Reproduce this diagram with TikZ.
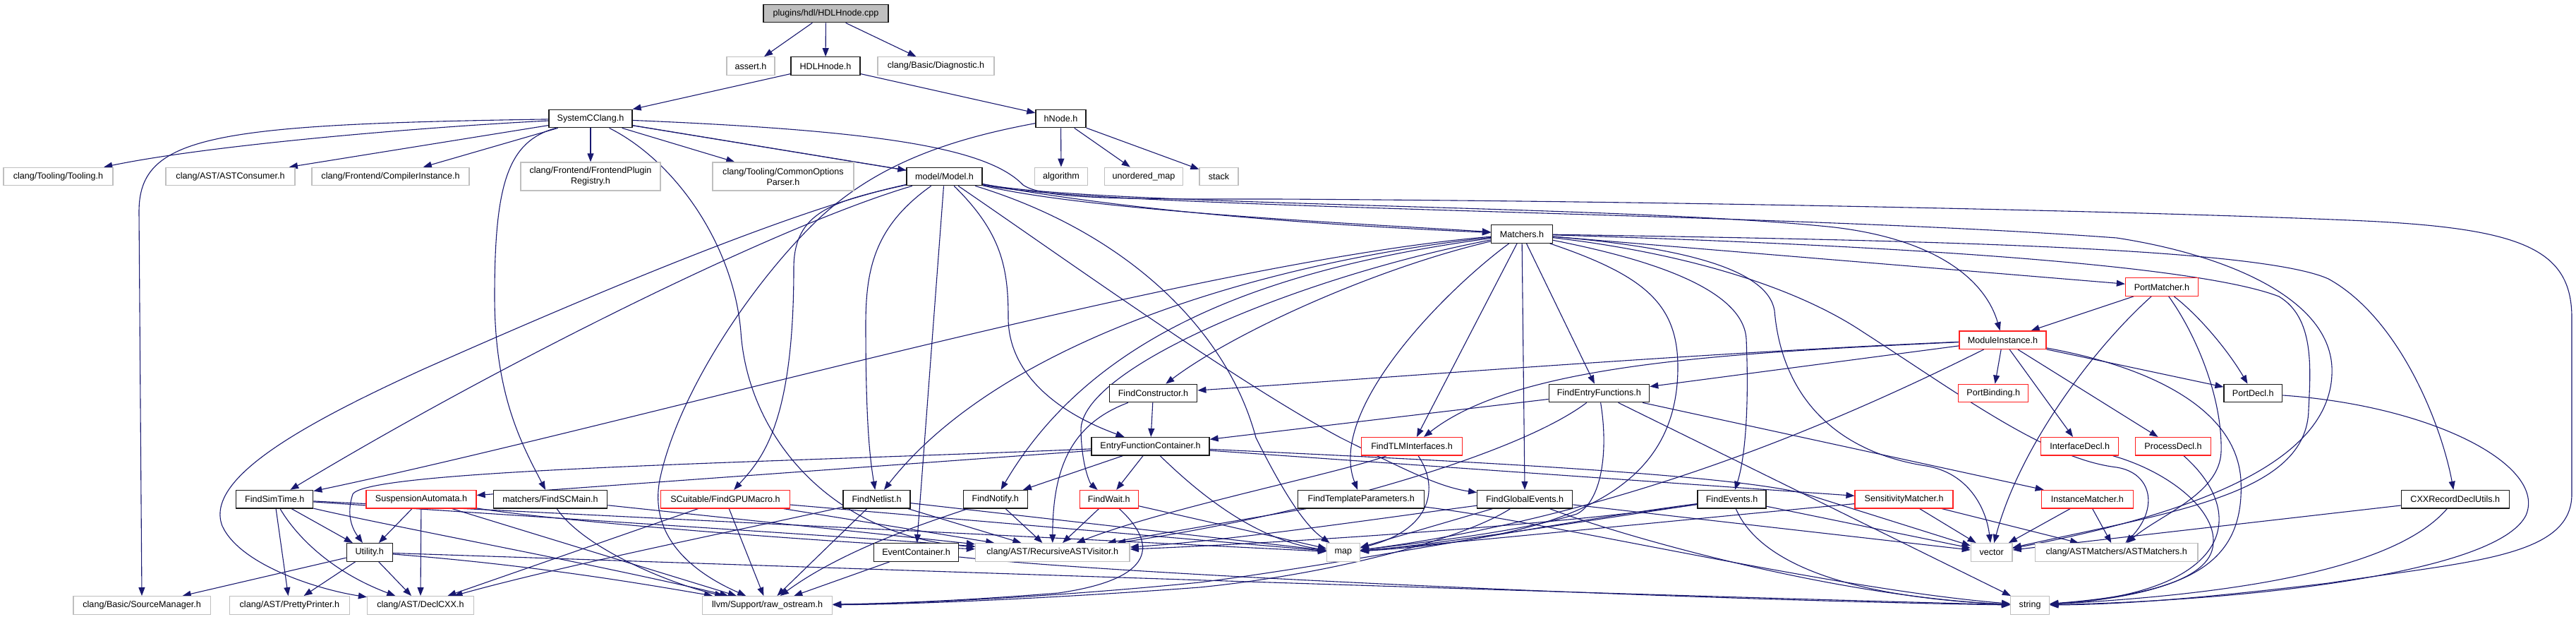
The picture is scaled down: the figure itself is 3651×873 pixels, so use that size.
\documentclass[tikz,border=0pt]{standalone}
\usepackage{fontspec}
\setmainfont{Liberation Sans}
\usetikzlibrary{arrows.meta}
\definecolor{edgec}{HTML}{191970}
\definecolor{gbord}{HTML}{BFBFBF}
\definecolor{rootfill}{HTML}{BFBFBF}
\definecolor{redb}{HTML}{FF2020}
\pgfdeclarelayer{bg}
\pgfsetlayers{bg,main}
\newcommand\nf{\fontsize{12.6}{15}\selectfont}
\tikzset{
  box/.style={rectangle, inner sep=0pt, minimum height=25.5pt, font=\nf, fill=white, line width=1.3pt, align=center},
  bb/.style={box, draw=black!90},
  gb/.style={box, draw=gbord},
  rb/.style={box, draw=redb},
  rootb/.style={box, draw=black!90, fill=rootfill},
  e/.style={draw=edgec, line width=1.1pt, -{Triangle[length=12pt,width=9pt]}},
}
\begin{document}
\begin{tikzpicture}[x=1pt,y=-1pt]
\useasboundingbox (0,0) rectangle (3651,873);
\begin{pgfonlayer}{bg}
\fill[white] (0,0) rectangle (3651,873);
\end{pgfonlayer}
% ---------- nodes ----------
\node[rootb, minimum width=177pt] (root) at (1170.5,19) {plugins/hdl/HDLHnode.cpp};
\node[gb, minimum width=68pt] (assert) at (1064,93.5) {assert.h};
\node[bb, minimum width=98pt] (hdlh) at (1170,93.5) {HDLHnode.h};
\node[gb, minimum width=165pt] (diag) at (1326.5,93.5) {clang/Basic/Diagnostic.h};
\node[bb, minimum width=118pt] (scc) at (837,168) {SystemCClang.h};
\node[bb, minimum width=71pt] (hnode) at (1503.5,168) {hNode.h};
\node[gb, minimum width=155pt] (tooling) at (82.5,250) {clang/Tooling/Tooling.h};
\node[gb, minimum width=183pt] (astcons) at (326.5,250) {clang/AST/ASTConsumer.h};
\node[gb, minimum width=223pt] (compinst) at (553.5,250) {clang/Frontend/CompilerInstance.h};
\node[gb, minimum width=198pt, minimum height=40pt] (fpreg) at (837,250) {clang/Frontend/FrontendPlugin\\Registry.h};
\node[gb, minimum width=200pt, minimum height=40pt] (cop) at (1110,250) {clang/Tooling/CommonOptions\\Parser.h};
\node[bb, minimum width=107pt] (model) at (1338.5,250) {model/Model.h};
\node[gb, minimum width=75pt] (algo) at (1504,250) {algorithm};
\node[gb, minimum width=111pt] (umap) at (1621,250) {unordered\_map};
\node[gb, minimum width=55pt] (stack) at (1727.5,250) {stack};
\node[bb, minimum width=87pt] (matchers) at (2157,331.5) {Matchers.h};
\node[rb, minimum width=103pt] (portm) at (3064,406.5) {PortMatcher.h};
\node[rb, minimum width=123pt] (modinst) at (2838.5,481.7) {ModuleInstance.h};
\node[bb, minimum width=124.5pt] (findctor) at (1634.5,557) {FindConstructor.h};
\node[bb, minimum width=142.4pt] (fef) at (2266.4,557) {FindEntryFunctions.h};
\node[rb, minimum width=99pt] (portbind) at (2825.2,557) {PortBinding.h};
\node[bb, minimum width=82.6pt] (portdecl) at (3193.3,557) {PortDecl.h};
\node[bb, minimum width=167pt] (efc) at (1630.5,632.3) {EntryFunctionContainer.h};
\node[rb, minimum width=143pt] (ftlm) at (2001,632.3) {FindTLMInterfaces.h};
\node[rb, minimum width=110pt] (ifdecl) at (2947.7,632.3) {InterfaceDecl.h};
\node[rb, minimum width=107pt] (procdecl) at (3080,632.3) {ProcessDecl.h};
\node[bb, minimum width=109pt] (fst) at (389.2,707.2) {FindSimTime.h};
\node[rb, minimum width=156pt] (susp) at (597,707.2) {SuspensionAutomata.h};
\node[bb, minimum width=161.5pt] (fscm) at (780,707.2) {matchers/FindSCMain.h};
\node[rb, minimum width=183pt] (fgpu) at (1028,707.2) {SCuitable/FindGPUMacro.h};
\node[bb, minimum width=95pt] (fnet) at (1242.5,707.2) {FindNetlist.h};
\node[bb, minimum width=91pt] (fnot) at (1410.7,707.2) {FindNotify.h};
\node[rb, minimum width=83pt] (fwait) at (1571.7,707.2) {FindWait.h};
\node[bb, minimum width=179pt] (ftp) at (1929.2,707.2) {FindTemplateParameters.h};
\node[bb, minimum width=135pt] (fge) at (2161.2,707.2) {FindGlobalEvents.h};
\node[bb, minimum width=97pt] (fev) at (2454.5,707.2) {FindEvents.h};
\node[rb, minimum width=139pt] (sensm) at (2698.6,707.2) {SensitivityMatcher.h};
\node[rb, minimum width=130pt] (instm) at (2958.3,707.2) {InstanceMatcher.h};
\node[bb, minimum width=153pt] (cxxr) at (3479.8,707.2) {CXXRecordDeclUtils.h};
\node[bb, minimum width=65pt] (util) at (523.8,782.4) {Utility.h};
\node[bb, minimum width=120pt] (evc) at (1298.6,782.4) {EventContainer.h};
\node[gb, minimum width=218.6pt] (rav) at (1491.8,782.4) {clang/AST/RecursiveASTVisitor.h};
\node[gb, minimum width=46.7pt] (map) at (1903.9,782.4) {map};
\node[gb, minimum width=58.7pt] (vector) at (2822.7,782.4) {vector};
\node[gb, minimum width=230.7pt] (astm) at (2999.6,782.4) {clang/ASTMatchers/ASTMatchers.h};
\node[gb, minimum width=194.5pt] (srcmgr) at (201.1,857.4) {clang/Basic/SourceManager.h};
\node[gb, minimum width=169.6pt] (pretty) at (410.4,857.4) {clang/AST/PrettyPrinter.h};
\node[gb, minimum width=150.7pt] (declcxx) at (595.9,857.4) {clang/AST/DeclCXX.h};
\node[gb, minimum width=184pt] (raw) at (1087.6,857.4) {llvm/Support/raw\_ostream.h};
\node[gb, minimum width=55pt] (string) at (2877.1,857.4) {string};
% ---------- edges ----------
\begin{pgfonlayer}{bg}
% root / HDLHnode / hNode
\draw[e] (root) -- (assert);
\draw[e] (root) -- (hdlh);
\draw[e] (root) -- (diag);
\draw[e] (hdlh) -- (scc);
\draw[e] (hdlh) -- (hnode);
\draw[e] (hnode) -- (algo);
\draw[e] (hnode) -- (umap);
\draw[e] (hnode) -- (stack);
\draw[e] (hnode) .. controls (1330,200) and (1230,240) .. (1150,320) .. controls (1060,410) and (960,560) .. (935,680) .. controls (920,760) and (980,810) .. (raw);
% SystemCClang
\draw[e] (scc) .. controls (600,180) and (300,205) .. (tooling);
\draw[e] (scc) -- (astcons);
\draw[e] (scc) -- (compinst);
\draw[e] (scc) -- (fpreg);
\draw[e] (scc) -- (cop);
\draw[e] (scc) -- (model);
\draw[e] (scc) .. controls (300,176) and (197,192) .. (197,300) -- (srcmgr);
\draw[e] (scc) .. controls (720,200) and (701,260) .. (701,420) .. controls (701,560) and (740,630) .. (fscm);
\draw[e] (scc) .. controls (960,230) and (1040,350) .. (1050,470) .. controls (1060,620) and (1180,760) .. (rav);
\draw[e] (scc) -- (model.center) .. controls (1600,305) and (1950,322) .. (matchers);
\draw[e] (scc) .. controls (1250,185) and (1400,210) .. (1450,262) .. controls (1480,283) and (1600,282) .. (1810,282) .. controls (2500,286) and (3100,302) .. (3330,312) .. controls (3570,322) and (3645,350) .. (3645,450) -- (3645,700) .. controls (3645,790) and (3500,795) .. (3300,826) .. controls (3100,850) and (3000,856) .. (string);
% Model
\draw[e] (model) .. controls (1150,290) and (900,390) .. (600,523) .. controls (420,605) and (290,680) .. (315,745) .. controls (340,800) and (450,835) .. (declcxx);
\draw[e] (model) .. controls (1100,320) and (700,520) .. (fst);
\draw[e] (model) .. controls (1240,320) and (1227,380) .. (1227,460) .. controls (1227,600) and (1233,650) .. (fnet);
\draw[e] (model) -- (evc);
\draw[e] (model) .. controls (1420,330) and (1429,380) .. (1429,450) .. controls (1429,530) and (1500,585) .. (efc);
\draw[e] (model) .. controls (1500,360) and (1750,540) .. (1900,620) .. controls (1990,665) and (2040,690) .. (fge);
\draw[e] (model) .. controls (1600,330) and (1740,470) .. (1780,620) .. controls (1820,700) and (1850,745) .. (map);
\draw[e] (model) .. controls (1180,285) and (1125,300) .. (1125,380) .. controls (1125,600) and (1080,650) .. (fgpu);
\draw[e] (model) .. controls (1550,300) and (1950,318) .. (matchers);
\draw[e] (model) .. controls (1550,292) and (2300,290) .. (2600,322) .. controls (2750,340) and (2815,400) .. (modinst);
\draw[e] (model) .. controls (1550,296) and (2500,300) .. (3000,337) .. controls (3150,360) and (3300,420) .. (3305,520) .. controls (3310,640) and (3150,720) .. (vector);
% Matchers
\draw[e] (matchers) .. controls (1700,370) and (900,600) .. (fst);
\draw[e] (matchers) .. controls (1800,370) and (1420,480) .. (fnet);
\draw[e] (matchers) .. controls (1800,380) and (1550,470) .. (fnot);
\draw[e] (matchers) .. controls (1950,380) and (1750,470) .. (findctor);
\draw[e] (matchers) .. controls (1850,390) and (1530,520) .. (1532,610) .. controls (1533,660) and (1545,685) .. (fwait);
\draw[e] (matchers) .. controls (2050,410) and (1880,580) .. (ftp);
\draw[e] (matchers) -- (ftlm);
\draw[e] (matchers) -- (fge);
\draw[e] (matchers) -- (fef);
\draw[e] (matchers) .. controls (2330,390) and (2378,430) .. (2378,520) .. controls (2378,680) and (2250,760) .. (map);
\draw[e] (matchers) .. controls (2300,360) and (2470,400) .. (2475,480) .. controls (2480,600) and (2470,660) .. (fev);
\draw[e] (matchers) -- (portm);
\draw[e] (matchers) .. controls (2700,340) and (3200,350) .. (3300,395) .. controls (3400,450) and (3460,600) .. (cxxr);
\draw[e] (matchers) .. controls (2600,345) and (3100,370) .. (3230,420) .. controls (3280,450) and (3275,520) .. (3272,580) .. controls (3270,700) and (3080,725) .. (vector);
\draw[e] (matchers) .. controls (2380,350) and (2505,380) .. (2515,440) .. controls (2525,560) and (2600,640) .. (2730,660) .. controls (2790,670) and (2815,720) .. (vector);
\draw[e] (matchers) .. controls (2400,360) and (2550,410) .. (2640,470) .. controls (2780,560) and (2900,650) .. (3000,662) .. controls (3050,670) and (3060,720) .. (astm);
% PortMatcher
\draw[e] (portm) -- (modinst);
\draw[e] (portm) .. controls (2960,500) and (2860,640) .. (vector);
\draw[e] (portm) .. controls (3110,470) and (3150,560) .. (3148,640) .. controls (3146,700) and (3060,730) .. (astm);
\draw[e] (portm) .. controls (3120,450) and (3160,500) .. (portdecl);
% ModuleInstance
\draw[e] (modinst) .. controls (2450,500) and (2150,515) .. (ftlm);
\draw[e] (modinst) .. controls (2400,500) and (1900,540) .. (findctor);
\draw[e] (modinst) -- (fef);
\draw[e] (modinst) .. controls (2600,600) and (2300,730) .. (map);
\draw[e] (modinst) -- (portbind);
\draw[e] (modinst) -- (ifdecl);
\draw[e] (modinst) -- (procdecl);
\draw[e] (modinst) -- (portdecl);
\draw[e] (modinst) .. controls (3050,520) and (3170,580) .. (3176,680) .. controls (3182,800) and (3100,840) .. (string);
% right-side declarations
\draw[e] (portdecl) .. controls (3450,575) and (3610,660) .. (3580,730) .. controls (3540,810) and (3200,850) .. (string);
\draw[e] (cxxr) -- (vector);
\draw[e] (cxxr) .. controls (3400,800) and (3200,840) .. (string);
\draw[e] (procdecl) .. controls (3190,730) and (3160,840) .. (string);
\draw[e] (ifdecl) .. controls (3080,670) and (3150,730) .. (3135,780) .. controls (3120,830) and (3000,850) .. (string);
\draw[e] (instm) -- (vector);
\draw[e] (instm) -- (astm);
\draw[e] (sensm) -- (vector);
\draw[e] (sensm) -- (astm);
\draw[e] (sensm) .. controls (2450,730) and (2100,765) .. (map);
% FindEvents
\draw[e] (fev) .. controls (2300,730) and (2050,770) .. (map);
\draw[e] (fev) .. controls (2200,745) and (1800,770) .. (rav);
\draw[e] (fev) .. controls (2200,740) and (1900,800) .. (1700,825) .. controls (1500,845) and (1300,855) .. (raw);
\draw[e] (fev) -- (vector);
\draw[e] (fev) .. controls (2490,790) and (2600,845) .. (string);
% FindGlobalEvents
\draw[e] (fge) .. controls (1950,735) and (1750,765) .. (rav);
\draw[e] (fge) -- (map);
\draw[e] (fge) .. controls (2080,760) and (1900,812) .. (1700,832) .. controls (1500,847) and (1300,856) .. (raw);
\draw[e] (fge) -- (vector);
\draw[e] (fge) .. controls (2300,760) and (2600,845) .. (string);
% FindTemplateParameters
\draw[e] (ftp) -- (rav);
\draw[e] (ftp) .. controls (2200,740) and (2600,835) .. (string);
% FindEntryFunctions
\draw[e] (fef) -- (efc);
\draw[e] (fef) .. controls (2150,645) and (1850,730) .. (rav);
\draw[e] (fef) .. controls (2280,640) and (2270,710) .. (2235,728) .. controls (2150,755) and (2000,770) .. (map);
\draw[e] (fef) -- (string);
\draw[e] (fef) -- (instm);
% FindTLMInterfaces
\draw[e] (ftlm) .. controls (1900,670) and (1650,720) .. (rav);
\draw[e] (ftlm) .. controls (2040,690) and (2030,750) .. (map);
% FindConstructor / EntryFunctionContainer
\draw[e] (findctor) -- (efc);
\draw[e] (findctor) .. controls (1520,600) and (1492,660) .. (rav);
\draw[e] (efc) -- (susp);
\draw[e] (efc) .. controls (1100,655) and (520,665) .. (500,700) .. controls (490,730) and (500,750) .. (util);
\draw[e] (efc) -- (fnot);
\draw[e] (efc) -- (fwait);
\draw[e] (efc) .. controls (1700,700) and (1780,765) .. (map);
\draw[e] (efc) -- (sensm);
\draw[e] (efc) .. controls (2000,650) and (2450,670) .. (2560,700) -- (vector);
% FindWait / FindNotify / EventContainer / FindNetlist
\draw[e] (fwait) -- (rav);
\draw[e] (fwait) .. controls (1640,770) and (1640,820) .. (1500,840) .. controls (1350,852) and (1250,855) .. (raw);
\draw[e] (fwait) -- (map);
\draw[e] (fnot) -- (rav);
\draw[e] (fnot) .. controls (1330,735) and (1200,775) .. (raw);
\draw[e] (evc) -- (raw);
\draw[e] (evc) .. controls (1600,815) and (2400,850) .. (string);
\draw[e] (fnet) .. controls (1100,740) and (800,800) .. (declcxx);
\draw[e] (fnet) -- (raw);
\draw[e] (fnet) -- (rav);
\draw[e] (fnet) -- (map);
% FindGPUMacro / FindSCMain
\draw[e] (fgpu) -- (declcxx);
\draw[e] (fgpu) -- (raw);
\draw[e] (fgpu) -- (rav);
\draw[e] (fgpu) -- (map);
\draw[e] (fscm) .. controls (830,780) and (960,830) .. (raw);
\draw[e] (fscm) -- (rav);
% SuspensionAutomata / Utility / FindSimTime
\draw[e] (susp) -- (util);
\draw[e] (susp) -- (declcxx);
\draw[e] (susp) -- (raw);
\draw[e] (susp) .. controls (800,740) and (1200,770) .. (rav);
\draw[e] (util) -- (srcmgr);
\draw[e] (util) -- (pretty);
\draw[e] (util) -- (declcxx);
\draw[e] (util) .. controls (750,800) and (900,825) .. (raw);
\draw[e] (util) .. controls (1000,798) and (2200,840) .. (string);
\draw[e] (fst) -- (util);
\draw[e] (fst) -- (pretty);
\draw[e] (fst) .. controls (420,760) and (470,810) .. (declcxx);
\draw[e] (fst) .. controls (550,745) and (850,800) .. (raw);
\draw[e] (fst) .. controls (800,735) and (1200,760) .. (rav);
\draw[e] (fst) -- (map);
\end{pgfonlayer}
\end{tikzpicture}
\end{document}
